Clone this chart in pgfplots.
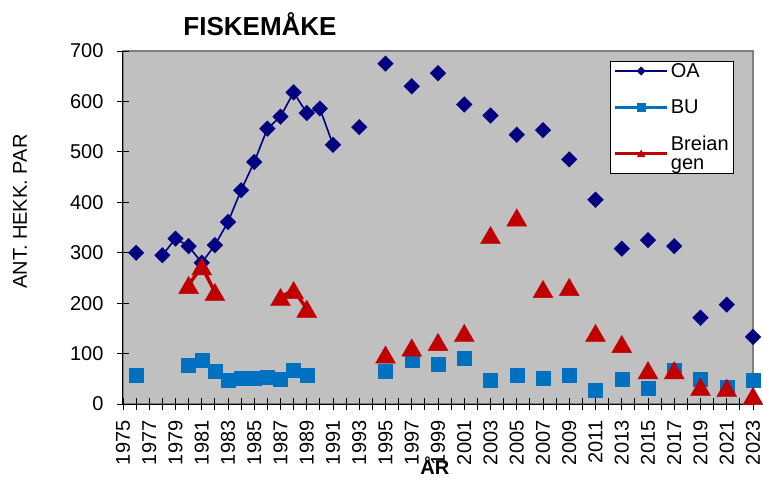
\documentclass[border=0pt]{standalone}
\usepackage{fontspec}
\setmainfont{Liberation Sans}
\usepackage{pgfplots}
\pgfplotsset{compat=1.18}

\definecolor{oaNavy}{RGB}{0,0,128}
\definecolor{buBlue}{RGB}{0,112,192}
\definecolor{brRed}{RGB}{192,0,0}
\definecolor{plotGray}{RGB}{192,192,192}
\definecolor{edgeGray}{RGB}{128,128,128}

\begin{document}
\begin{tikzpicture}
\begin{axis}[
    scale only axis,
    width=630pt, height=353pt,
    xmin=1975, xmax=2023,
    ymin=0, ymax=700,
    axis x line*=bottom,
    axis y line*=left,
    axis line style={black, line width=1pt},
    axis background/.style={fill=plotGray, draw=edgeGray, line width=1.5pt},
    xtick={1975,1977,...,2023},
    minor xtick={1976,1978,...,2022},
    ytick={0,100,...,700},
    tick align=center,
    major tick length=12pt,
    minor tick length=12pt,
    tick style={black, line width=0.8pt},
    /pgf/number format/1000 sep={},
    /pgf/number format/assume math mode=true,
    tick label style={font=\fontsize{20}{24}\selectfont},
    xticklabel style={rotate=90, anchor=east},
    xticklabel shift=7pt,
    yticklabel style={xshift=-10pt},
    unbounded coords=jump,
    title={\bfseries FISKEMÅKE},
    title style={at={(axis description cs:0.2175,1.058)}, anchor=center,
                 font=\fontsize{26}{28}\selectfont},
    xlabel={\bfseries ÅR},
    xlabel style={at={(axis description cs:0.495,-0.176)}, anchor=center,
                  font=\fontsize{20}{24}\selectfont},
    ylabel={ANT. HEKK. PAR},
    ylabel style={at={(axis description cs:-0.1635,0.545)}, anchor=center,
                  font=\fontsize{20}{24}\selectfont},
    legend style={at={(axis description cs:0.970,0.972)}, anchor=north east,
                  draw=black, fill=white, line width=0.8pt,
                  font=\fontsize{20}{19}\selectfont,
                  cells={anchor=west, align=left},
                  row sep=17pt, inner xsep=3pt, inner ysep=0pt},
    legend image code/.code={
        \draw[mark repeat=2, mark phase=2, #1]
            plot coordinates {(0pt,0pt) (26pt,0pt) (52pt,0pt)};
    },
]

%% OA
\addplot[oaNavy, line width=1.6pt, mark=square*, mark size=5.5pt,
         mark options={rotate=45, solid, fill=oaNavy, draw=oaNavy, line width=0.4pt},
         legend image post style={mark size=3pt}]
coordinates {
    (1976,300) (1977,nan)
    (1978,295) (1979,328) (1980,313) (1981,280) (1982,315) (1983,361)
    (1984,424) (1985,480) (1986,546) (1987,570) (1988,618) (1989,577)
    (1990,586) (1991,514) (1992,nan)
    (1993,549) (1994,nan)
    (1995,675) (1996,nan) (1997,630) (1998,nan) (1999,656) (2000,nan)
    (2001,594) (2002,nan) (2003,572) (2004,nan) (2005,534) (2006,nan)
    (2007,543) (2008,nan) (2009,485) (2010,nan) (2011,405) (2012,nan)
    (2013,308) (2014,nan) (2015,325) (2016,nan) (2017,313) (2018,nan)
    (2019,171) (2020,nan) (2021,197) (2022,nan) (2023,133)
};
\addlegendentry{OA}

%% BU
\addplot[buBlue, line width=3.5pt, mark=square*, mark size=7pt,
         mark options={solid, fill=buBlue, draw=buBlue, line width=0.4pt},
         legend image post style={mark size=4pt}]
coordinates {
    (1976,57) (1977,nan)
    (1980,77) (1981,87) (1982,65) (1983,48) (1984,51) (1985,52)
    (1986,53) (1987,50) (1988,67) (1989,57) (1990,nan)
    (1995,65) (1996,nan) (1997,87) (1998,nan) (1999,79) (2000,nan)
    (2001,90) (2002,nan) (2003,48) (2004,nan) (2005,57) (2006,nan)
    (2007,51) (2008,nan) (2009,57) (2010,nan) (2011,28) (2012,nan)
    (2013,49) (2014,nan) (2015,32) (2016,nan) (2017,67) (2018,nan)
    (2019,49) (2020,nan) (2021,34) (2022,nan) (2023,48)
};
\addlegendentry{BU}

%% Breiangen
\addplot[brRed, line width=3.5pt, mark=triangle*, mark size=11.5pt,
         mark options={solid, fill=brRed, draw=brRed, line width=0.4pt, yshift=-2.9pt},
         legend image post style={mark size=4.5pt, every mark/.append style={yshift=1.8pt}}]
coordinates {
    (1980,236) (1981,273) (1982,222) (1983,nan)
    (1987,212) (1988,226) (1989,189) (1990,nan)
    (1995,98) (1996,nan) (1997,112) (1998,nan) (1999,123) (2000,nan)
    (2001,141) (2002,nan) (2003,335) (2004,nan) (2005,370) (2006,nan)
    (2007,228) (2008,nan) (2009,232) (2010,nan) (2011,141) (2012,nan)
    (2013,119) (2014,nan) (2015,67) (2016,nan) (2017,67) (2018,nan)
    (2019,34) (2020,nan) (2021,32) (2022,nan) (2023,16)
};
\addlegendentry{Breian\\gen}

\end{axis}
\pgfresetboundingbox
\useasboundingbox (-123pt,-76pt) rectangle (640pt,404pt);
\end{tikzpicture}
\end{document}
